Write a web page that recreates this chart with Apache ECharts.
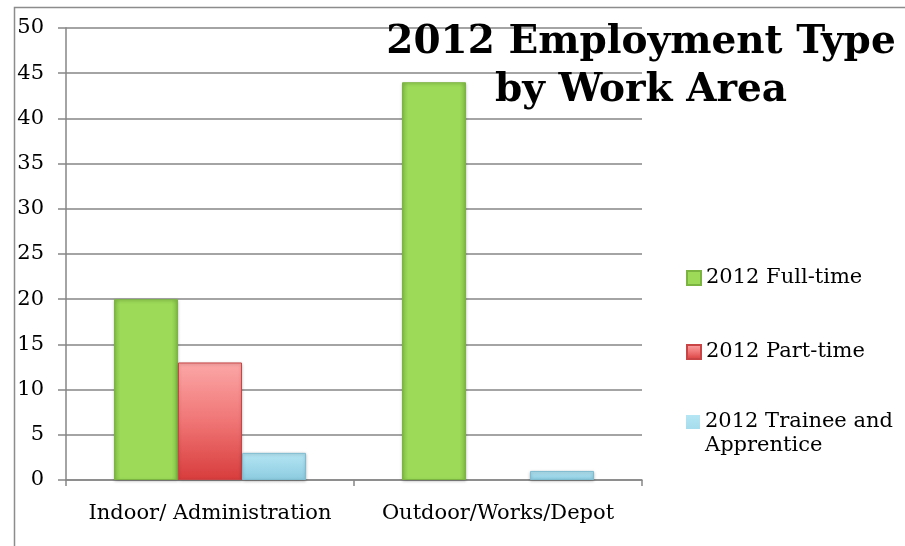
<!DOCTYPE html>
<html><head><meta charset="utf-8">
<script src="https://cdn.jsdelivr.net/npm/echarts@6/dist/echarts.min.js"></script>
<style>html,body{margin:0;padding:0;background:#fff}#c{width:905px;height:546px}</style>
</head><body><div id="c"></div>
<script>
const categories = ['Indoor/ Administration', 'Outdoor/Works/Depot'];
const seriesNames = ['2012 Full-time', '2012 Part-time', '2012 Trainee and Apprentice'];
const fullTime = [20, 44];
const partTime = [13, 0];
const trainee = [3, 1];
const titleText = '2012 Employment Type\nby Work Area';

const FONT = 'DejaVu Serif';
function hGrad(edge, mid) {
  return new echarts.graphic.LinearGradient(0, 0, 1, 0, [
    {offset: 0, color: edge}, {offset: 0.1, color: mid}, {offset: 0.9, color: mid}, {offset: 1, color: edge}
  ]);
}
const greenFill = hGrad('#84c047', '#9cda58');
const redFill = new echarts.graphic.LinearGradient(0, 0, 0, 1, [
  {offset: 0, color: '#fca7a7'}, {offset: 0.5, color: '#f07575'}, {offset: 1, color: '#d83c3c'}
]);
const blueFill = new echarts.graphic.LinearGradient(0, 0, 0, 1, [
  {offset: 0, color: '#b5e6f4'}, {offset: 1, color: '#8ccbe0'}
]);
const noZero = arr => arr.map(v => (v === 0 ? null : v));

const chart = echarts.init(document.getElementById('c'), null, {renderer: 'canvas'});
const legendText = {fontFamily: FONT, fontSize: 21, color: '#000', lineHeight: 24};
const legendBase = {left: 681, orient: 'vertical', icon: 'rect', itemWidth: 14, itemHeight: 14, itemGap: 6, textStyle: legendText};
chart.setOption({
  animation: false,
  backgroundColor: '#fff',
  title: {
    text: titleText,
    left: 636, top: 14, textAlign: 'center',
    textStyle: {fontFamily: FONT, fontWeight: 'bold', fontSize: 39, lineHeight: 48, color: '#000'}
  },
  graphic: [{
    type: 'rect', left: 12, top: 5, silent: true, z: -1,
    shape: {width: 1000, height: 1000},
    style: {fill: 'none', stroke: '#8c8c8c', lineWidth: 1.5}
  }],
  legend: [
    Object.assign({}, legendBase, {data: [seriesNames[0]], top: 261}),
    Object.assign({}, legendBase, {data: [seriesNames[1]], top: 335}),
    Object.assign({}, legendBase, {data: [seriesNames[2]], top: 405,
      icon: 'path://M0,0h14v14h-14zM0,37.99h0.01v0.01h-0.01z', itemHeight: 38,
      itemStyle: {borderWidth: 0},
      formatter: () => '2012 Trainee and\nApprentice'})
  ],
  grid: {left: 66, right: 263, top: 28, bottom: 66, containLabel: false},
  xAxis: {
    type: 'category', data: categories,
    axisLine: {lineStyle: {color: '#868686', width: 1.5}},
    axisTick: {show: true, length: 6, lineStyle: {color: '#868686', width: 1.5}},
    axisLabel: {fontFamily: FONT, fontSize: 21, color: '#000', margin: 23, interval: 0}
  },
  yAxis: {
    type: 'value', min: 0, max: 50, interval: 5,
    axisLine: {show: true, lineStyle: {color: '#868686', width: 1.5}},
    axisTick: {show: true, length: 8, lineStyle: {color: '#868686', width: 1.5}},
    splitLine: {lineStyle: {color: '#868686', width: 1.5}},
    axisLabel: {fontFamily: FONT, fontSize: 21, color: '#000', margin: 22}
  },
  series: [
    {name: seriesNames[0], type: 'bar', data: noZero(fullTime), barWidth: 64, barGap: '0%',
      itemStyle: {color: greenFill, borderColor: '#7bb441', borderWidth: 1, shadowColor: 'rgba(0,0,0,0.25)', shadowBlur: 3, shadowOffsetY: 1}},
    {name: seriesNames[1], type: 'bar', data: noZero(partTime), barWidth: 64, barGap: '0%',
      itemStyle: {color: redFill, borderColor: '#c94444', borderWidth: 1, shadowColor: 'rgba(0,0,0,0.25)', shadowBlur: 3, shadowOffsetY: 1}},
    {name: seriesNames[2], type: 'bar', data: noZero(trainee), barWidth: 64, barGap: '0%',
      itemStyle: {color: blueFill, borderColor: '#7fbcd0', borderWidth: 1, shadowColor: 'rgba(0,0,0,0.25)', shadowBlur: 3, shadowOffsetY: 1}}
  ]
});
</script></body></html>
